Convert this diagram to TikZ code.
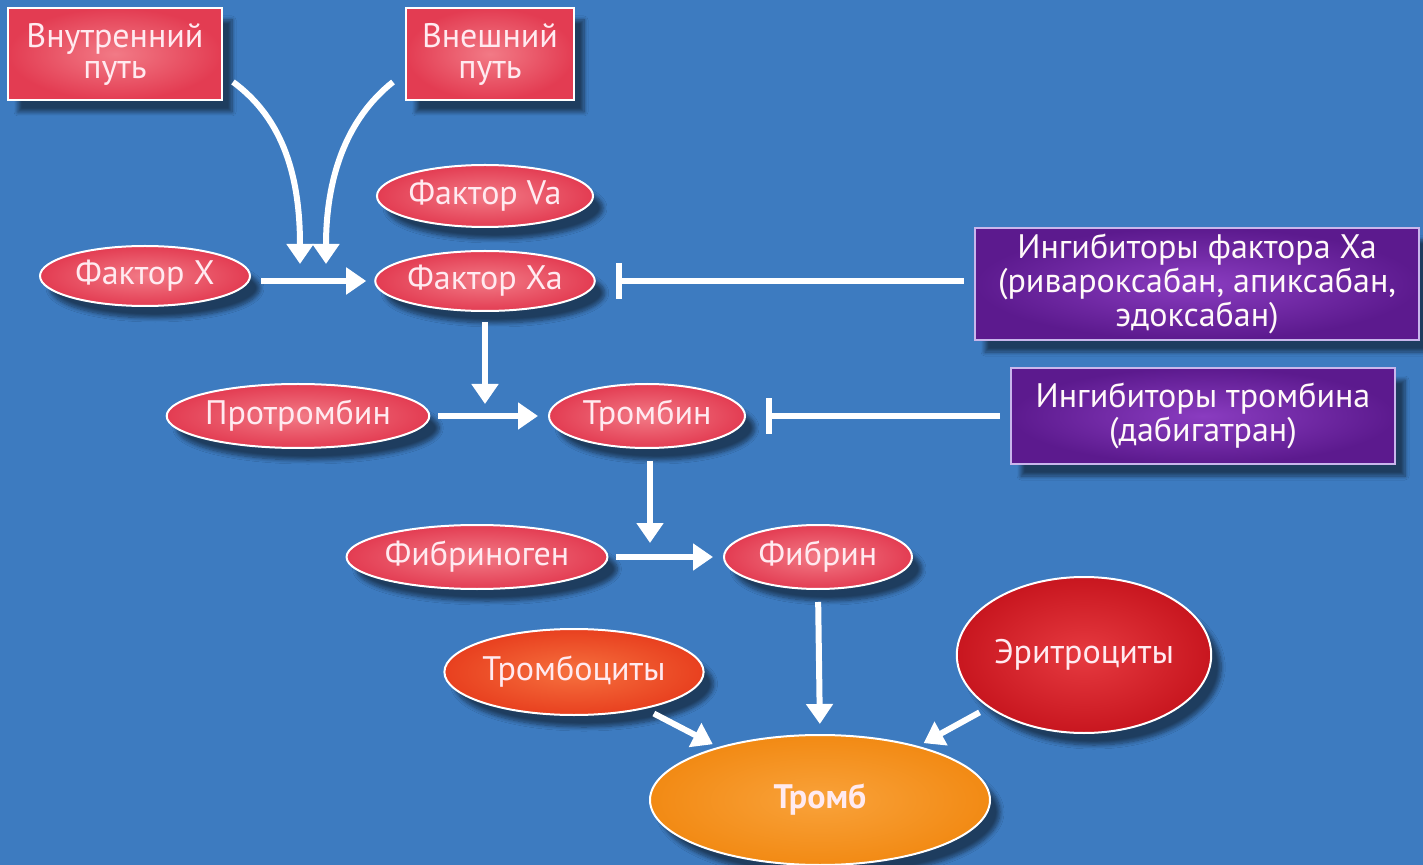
\documentclass[tikz,border=0pt]{standalone}
\usepackage{fontspec}
\setmainfont{PT Sans}
\usetikzlibrary{shapes.geometric,arrows.meta,shadows.blur,calc}
\definecolor{bg}{HTML}{3D7BC0}
\definecolor{txt}{HTML}{FFEAF0}
\definecolor{rlight}{HTML}{F27A86}
\definecolor{rdark}{HTML}{E33C52}
\definecolor{plight}{HTML}{8A3CC0}
\definecolor{pdark}{HTML}{5C1A8E}
\definecolor{pborder}{HTML}{C9B6EC}
\definecolor{olight}{HTML}{F6703E}
\definecolor{odark}{HTML}{E8401F}
\definecolor{dlight}{HTML}{E63A40}
\definecolor{ddark}{HTML}{C8161F}
\definecolor{tlight}{HTML}{F9A23A}
\definecolor{tdark}{HTML}{F28A14}
\begin{document}
\begin{tikzpicture}[x=0.5pt,y=-0.5pt,
  lbl/.style={text=txt, font=\fontsize{17}{15.5}\selectfont, align=center, inner sep=0pt},
  shad/.style={blur shadow={shadow xshift=5pt, shadow yshift=-6pt, shadow opacity=50, shadow blur steps=8}},
  ell/.style={ellipse, draw=white, line width=1pt, lbl, shad},
  redell/.style={ell, inner color=rlight, outer color=rdark},
  redbox/.style={rectangle, draw=white, line width=1pt, lbl, shad, inner color=rlight, outer color=rdark},
  purplebox/.style={rectangle, draw=pborder, line width=1.2pt, lbl, shad, inner color=plight, outer color=pdark, text=white!90!pink},
  arr/.style={draw=white, line width=3pt, -{Triangle[length=10pt,width=13pt]}},
  inh/.style={draw=white, line width=3pt, -{Bar[width=18pt,line width=3pt]}}
]
\useasboundingbox (0,0) rectangle (1423,865);
\fill[bg] (0,0) rectangle (1423,865);

% nodes
\node[redbox, minimum width=107pt, minimum height=46pt] (vnut) at (115,54) {Внутренний\\путь};
\node[redbox, minimum width=84pt, minimum height=46pt] (vnesh) at (490,54) {Внешний\\путь};
\node[redell, minimum width=105pt, minimum height=31pt] (fva) at (485,196) {Фактор Va};
\node[redell, minimum width=105pt, minimum height=30pt] (fxa) at (485,281) {Фактор Xa};
\node[redell, minimum width=105pt, minimum height=30pt] (fx) at (145,276) {Фактор X};
\node[purplebox, minimum width=222pt, minimum height=56pt] (inhxa) at (1197,284) {Ингибиторы фактора Xa\\(ривароксабан, апиксабан,\\эдоксабан)};
\node[redell, minimum width=122pt, minimum height=32pt] (prot) at (298,416) {Протромбин};
\node[redell, minimum width=98pt, minimum height=32pt] (tromb) at (647,416) {Тромбин};
\node[purplebox, minimum width=192pt, minimum height=48pt] (inht) at (1203,416) {Ингибиторы тромбина\\(дабигатран)};
\node[redell, minimum width=112pt, minimum height=32pt] (fibg) at (477,557) {Фибриноген};
\node[redell, minimum width=94pt, minimum height=32pt] (fib) at (818,557) {Фибрин};
\node[ell, inner color=olight, outer color=odark, minimum width=114pt, minimum height=43pt] (trc) at (574,672) {Тромбоциты};
\node[ell, inner color=dlight, outer color=ddark, minimum width=112pt, minimum height=78pt] (ery) at (1084,655) {Эритроциты};
\node[ell, inner color=tlight, outer color=tdark, minimum width=170pt, minimum height=65pt] (thr) at (820,800) {\bfseries Тромб};

% junction points
\coordinate (m1) at (300,264);
\coordinate (m2) at (326,264);
\coordinate (j1) at (485,404);
\coordinate (j2) at (650,543);

% connectors
\draw[arr] ($(vnut.east)+(10,28)$) .. controls (285,120) and (300,180) .. (m1);
\draw[arr] ($(vnesh.west)+(-12,28)$) .. controls (345,120) and (326,180) .. (m2);
\draw[arr, shorten <=5pt, shorten >=4pt] (fx.east |- fxa.west) -- (fxa.west);
\draw[inh, shorten <=5pt, shorten >=10pt] (inhxa.west |- fxa.east) -- (fxa.east);
\draw[arr, shorten <=5pt] (fxa.south) -- (j1);
\draw[arr, shorten <=4pt, shorten >=5pt] (prot) -- (tromb);
\draw[inh, shorten <=5pt, shorten >=10pt] (inht.west) -- (tromb.east);
\draw[arr, shorten <=6pt] (tromb.south -| j2) -- (j2);
\draw[arr, shorten <=4pt, shorten >=5pt] (fibg) -- (fib);
\draw[arr, shorten <=6pt, shorten >=5pt] (fib.south) -- (thr.north);
\draw[arr, shorten <=5pt, shorten >=3pt] (trc) -- (thr);
\draw[arr, shorten <=5pt, shorten >=3pt] (ery) -- (thr);
\end{tikzpicture}
\end{document}
